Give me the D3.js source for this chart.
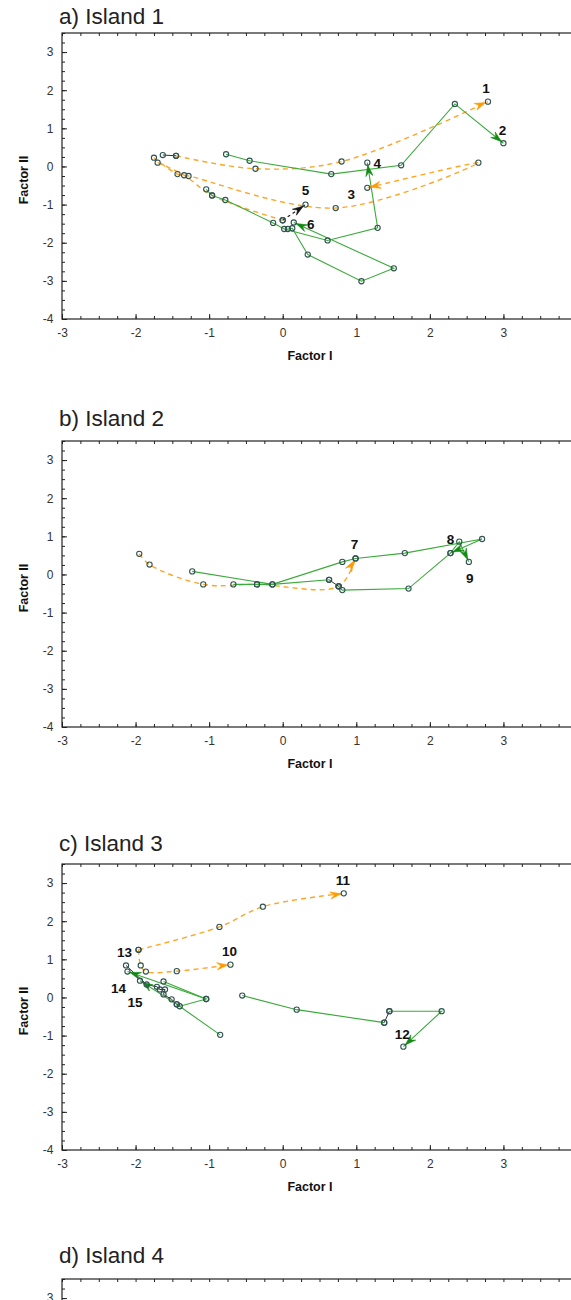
<!DOCTYPE html>
<html><head><meta charset="utf-8">
<script src="https://cdn.jsdelivr.net/npm/d3@7/dist/d3.min.js"></script>
<style>
body{margin:0;background:#fff}
svg{display:block}
text{font-family:"Liberation Sans",Arial,sans-serif}
</style>
</head><body>
<svg id="chart" width="571" height="1300"></svg>
<script>
// ---------------- DATA ----------------
const panelTitles = ["a) Island 1", "b) Island 2", "c) Island 3", "d) Island 4"];
const xTickValues = [-3, -2, -1, 0, 1, 2, 3];
const yTickValues = [-4, -3, -2, -1, 0, 1, 2, 3];
const xAxisTitle = "Factor I";
const yAxisTitle = "Factor II";

// Island 1 trajectories (Factor I, Factor II)
const a_t0 = [[-1.63, 0.30], [-1.45, 0.28]];
const a_t1 = [[-1.45, 0.28], [-0.37, -0.06], [0.80, 0.13], [2.79, 1.70]];
const a_t2 = [[-0.77, 0.32], [-0.45, 0.15], [0.66, -0.20], [1.61, 0.03], [2.34, 1.64], [3.00, 0.61]];
const a_t3 = [[-1.75, 0.23], [-1.43, -0.20], [-1.28, -0.25], [0.72, -1.09], [2.66, 0.10], [1.15, -0.56]];
const a_t4 = [[-1.04, -0.60], [-0.96, -0.76], [-0.78, -0.88], [-0.13, -1.48], [0.02, -1.64], [0.61, -1.94], [1.29, -1.61], [1.15, 0.10]];
const a_t5o = [[-1.70, 0.10], [-1.34, -0.23], [-0.96, -0.76], [0.00, -1.41]];
const a_t5 = [[0.00, -1.41], [0.31, -1.00]];
const a_t6 = [[0.07, -1.64], [0.13, -1.62], [0.34, -2.31], [1.07, -3.01], [1.51, -2.67], [0.15, -1.47]];

// Island 2
const b_t7 = [[-1.95, 0.54], [-1.81, 0.26], [-1.08, -0.26], [-0.35, -0.26], [0.76, -0.31], [0.99, 0.42]];
const b_t8 = [[-1.23, 0.08], [-0.14, -0.26], [0.81, 0.33], [0.99, 0.42], [1.66, 0.56], [2.71, 0.93], [2.28, 0.56]];
const b_t9a = [[-0.67, -0.26], [-0.35, -0.26], [-0.14, -0.26], [0.63, -0.14]];
const b_t9k = [[0.63, -0.14], [0.76, -0.31]];
const b_t9 = [[0.76, -0.31], [0.81, -0.41], [1.71, -0.37], [2.28, 0.56], [2.40, 0.86], [2.53, 0.33]];

// Island 3
const c_t10 = [[-1.96, 1.25], [-1.93, 0.84], [-1.86, 0.68], [-1.44, 0.69], [-0.71, 0.86]];
const c_t11 = [[-1.96, 1.25], [-0.86, 1.85], [-0.27, 2.38], [0.83, 2.73]];
const c_t12a = [[-0.55, 0.05], [0.19, -0.32], [1.38, -0.66]];
const c_t12k = [[1.38, -0.66], [1.45, -0.36]];
const c_t12 = [[1.45, -0.36], [2.16, -0.36], [1.64, -1.29]];
const c_t14 = [[-1.40, -0.23], [-1.04, -0.04], [-2.11, 0.68]];
const c_t15 = [[-0.85, -0.98], [-1.44, -0.18], [-1.94, 0.44]];
const c_t16 = [[-1.62, 0.42], [-1.04, -0.04]];
const c_tk = [[-2.13, 0.84], [-1.85, 0.34], [-1.71, 0.28], [-1.67, 0.21], [-1.60, 0.21], [-1.62, 0.08], [-1.51, -0.05], [-1.44, -0.18]];

// period: "early" (orange dashed), "late" (green solid), "shift"/"shiftd" (black)
const panelsData = [
  [
    {pts: a_t0, period: "shift", arrow: false},
    {pts: a_t1, period: "early", arrow: true, label: "1"},
    {pts: a_t3, period: "early", arrow: true, label: "3"},
    {pts: a_t5o, period: "early", arrow: false},
    {pts: a_t5, period: "shiftd", arrow: true, label: "5"},
    {pts: a_t2, period: "late", arrow: true, label: "2"},
    {pts: a_t4, period: "late", arrow: true, label: "4"},
    {pts: a_t6, period: "late", arrow: true, label: "6"}
  ],
  [
    {pts: b_t7, period: "early", arrow: true, label: "7"},
    {pts: b_t8, period: "late", arrow: true, label: "8"},
    {pts: b_t9a, period: "late", arrow: false},
    {pts: b_t9k, period: "shift", arrow: false},
    {pts: b_t9, period: "late", arrow: true, label: "9"}
  ],
  [
    {pts: c_t10, period: "early", arrow: true, label: "10"},
    {pts: c_t11, period: "early", arrow: true, label: "11", startLabel: "13"},
    {pts: c_tk, period: "shift", arrow: false},
    {pts: c_t12a, period: "late", arrow: false},
    {pts: c_t12k, period: "shift", arrow: false},
    {pts: c_t12, period: "late", arrow: true, label: "12"},
    {pts: c_t16, period: "late", arrow: false},
    {pts: c_t14, period: "late", arrow: true, label: "14"},
    {pts: c_t15, period: "late", arrow: true, label: "15"}
  ],
  []
];

// ---------------- STYLE / LAYOUT ----------------
const W = 571, H = 1300;
const plotLeft = 62, plotRight = 577, plotH = 286;
const panelTops = [33, 441, 864, 1279];
const titleBaselines = [24, 426, 851, 1263];
const styles = {
  early: {stroke: "#ffa526", width: 1.4, dash: "5,4", curve: d3.curveCatmullRom.alpha(0.5), head: "#ff9a00"},
  late: {stroke: "#3aaa3a", width: 1.1, dash: null, curve: d3.curveLinear, head: "#128a12"},
  shift: {stroke: "#333333", width: 1.0, dash: null, curve: d3.curveLinear, head: "#111"},
  shiftd: {stroke: "#222222", width: 1.2, dash: "3,3", curve: d3.curveLinear, head: "#111"}
};
const labelOffsets = {
  "1": [-2, -14], "2": [-1, -13], "3": [-16, 6], "4": [10, 0], "5": [0, -14], "6": [17, 2],
  "7": [-1, -14], "8": [0, -14], "9": [1, 16],
  "10": [-1, -14], "11": [-1, -13], "12": [-1, -13], "13": [-14, 2], "14": [-9, 17], "15": [-5, 21]
};

const svg = d3.select("#chart");

function arrowHead(p0, p1, color, g) {
  const dx = p1[0] - p0[0], dy = p1[1] - p0[1];
  const len = Math.hypot(dx, dy) || 1;
  const ux = dx / len, uy = dy / len, px = -uy, py = ux;
  const L = 11, w = 3.6;
  const tip = [p1[0] - ux * 2.5, p1[1] - uy * 2.5];
  const base = [tip[0] - ux * L, tip[1] - uy * L];
  const notch = [tip[0] - ux * L * 0.65, tip[1] - uy * L * 0.65];
  g.append("path")
    .attr("d", `M${tip[0]},${tip[1]}L${base[0] + px * w},${base[1] + py * w}L${notch[0]},${notch[1]}L${base[0] - px * w},${base[1] - py * w}Z`)
    .attr("fill", color).attr("stroke", color).attr("stroke-width", 0.6);
}

panelTitles.forEach((title, i) => {
  const top = panelTops[i];
  const bottom = top + plotH;
  const x = d3.scaleLinear().domain([-3, 4]).range([plotLeft, plotRight]);
  const y = d3.scaleLinear().domain([-4, 3.5]).range([bottom, top]);
  const g = svg.append("g");
  const bottomVisible = bottom + 45 < H;

  g.append("text").attr("x", 59).attr("y", titleBaselines[i])
    .attr("font-size", 22.5).attr("fill", "#222").text(title);

  const minorX = d3.range(-3, 4.001, 0.25);
  const minorY = d3.range(-4, 3.501, 0.25);

  if (bottomVisible) {
    g.append("g").attr("transform", `translate(0,${bottom})`)
      .call(d3.axisBottom(x).tickValues(minorX).tickSize(-3).tickFormat(""))
      .call(a => a.select(".domain").remove());
    g.append("g").attr("transform", `translate(0,${bottom})`)
      .call(d3.axisBottom(x).tickValues(xTickValues).tickSize(-5).tickPadding(9).tickFormat(d => String(d)))
      .call(a => a.select(".domain").remove())
      .call(a => a.selectAll("text").attr("font-size", 12).attr("fill", "#333").attr("font-family", "Liberation Sans, Arial, sans-serif"));
  }
  g.append("g").attr("transform", `translate(0,${top})`)
    .call(d3.axisTop(x).tickValues(minorX).tickSize(-3).tickFormat(""))
    .call(a => a.select(".domain").remove());
  g.append("g").attr("transform", `translate(${plotLeft},0)`)
    .call(d3.axisLeft(y).tickValues(minorY.filter(v => y(v) < H)).tickSize(-3).tickFormat(""))
    .call(a => a.select(".domain").remove());
  g.append("g").attr("transform", `translate(${plotLeft},0)`)
    .call(d3.axisLeft(y).tickValues(yTickValues.filter(v => y(v) < H)).tickSize(-5).tickPadding(8.5).tickFormat(d => String(d)))
    .call(a => a.select(".domain").remove())
    .call(a => a.selectAll("text").attr("font-size", 12).attr("fill", "#333").attr("font-family", "Liberation Sans, Arial, sans-serif"));
  g.selectAll(".tick line").attr("stroke", "#222");

  g.append("rect").attr("x", plotLeft).attr("y", top).attr("width", plotRight - plotLeft).attr("height", plotH)
    .attr("fill", "none").attr("stroke", "#222").attr("stroke-width", 1.2);

  if (bottomVisible) {
    g.append("text").attr("x", 310).attr("y", bottom + 41).attr("text-anchor", "middle")
      .attr("font-size", 12.5).attr("font-weight", "bold").attr("fill", "#111").text(xAxisTitle);
    g.append("text").attr("transform", `translate(28,${top + 147}) rotate(-90)`).attr("text-anchor", "middle")
      .attr("font-size", 12.5).attr("font-weight", "bold").attr("fill", "#111").text(yAxisTitle);
  }

  const data = panelsData[i];
  const lg = g.append("g");
  const ag = g.append("g");
  const cg = g.append("g");
  const tg = g.append("g");
  data.forEach(tr => {
    const st = styles[tr.period];
    const line = d3.line().x(d => x(d[0])).y(d => y(d[1])).curve(st.curve);
    const p = lg.append("path").attr("d", line(tr.pts)).attr("fill", "none")
      .attr("stroke", st.stroke).attr("stroke-width", st.width);
    if (st.dash) p.attr("stroke-dasharray", st.dash);
    const n = tr.pts.length;
    const pe = [x(tr.pts[n - 1][0]), y(tr.pts[n - 1][1])];
    if (tr.arrow) {
      arrowHead([x(tr.pts[n - 2][0]), y(tr.pts[n - 2][1])], pe, st.head, ag);
    }
    if (tr.label) {
      const o = labelOffsets[tr.label];
      tg.append("text").attr("x", pe[0] + o[0]).attr("y", pe[1] + o[1]).attr("dy", "0.36em")
        .attr("text-anchor", "middle").attr("font-size", 13.5).attr("font-weight", "bold").attr("fill", "#111").text(tr.label);
    }
    if (tr.startLabel) {
      const ps = [x(tr.pts[0][0]), y(tr.pts[0][1])];
      const o = labelOffsets[tr.startLabel];
      tg.append("text").attr("x", ps[0] + o[0]).attr("y", ps[1] + o[1]).attr("dy", "0.36em")
        .attr("text-anchor", "middle").attr("font-size", 13.5).attr("font-weight", "bold").attr("fill", "#111").text(tr.startLabel);
    }
    tr.pts.forEach(pt => {
      cg.append("circle").attr("cx", x(pt[0])).attr("cy", y(pt[1])).attr("r", 2.6)
        .attr("fill", "none").attr("stroke", "#2f5252").attr("stroke-width", 1.1);
    });
  });
});
</script>
</body></html>
